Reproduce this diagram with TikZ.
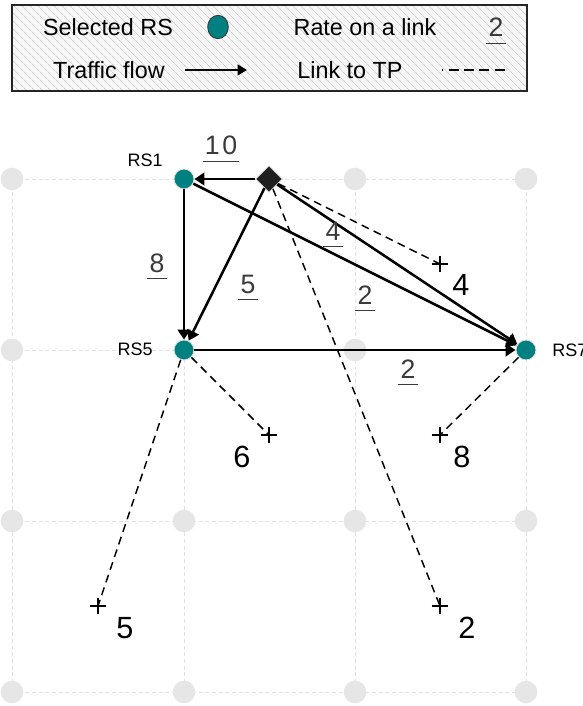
\documentclass[tikz,border=0pt]{standalone}
\usepackage{fontspec}
\setmainfont{Liberation Sans}
\usetikzlibrary{arrows.meta,shapes.geometric,patterns.meta}
\definecolor{tealrs}{HTML}{008080}
\definecolor{gridgray}{HTML}{E6E6E6}
\definecolor{gridline}{HTML}{E2E2E2}
\definecolor{ratecol}{HTML}{3A3A3A}
\begin{document}
\begin{tikzpicture}[x=0.75pt,y=-0.75pt,
  gpt/.style={circle,fill=gridgray,minimum size=17pt,inner sep=0pt},
  rs/.style={circle,fill=tealrs,draw=gray!25,line width=0.7pt,minimum size=15pt,inner sep=0pt},
  bs/.style={diamond,fill=black!88,draw=gray!40,line width=0.6pt,minimum size=20pt,inner sep=0pt},
  flow/.style={line width=1.9pt,-{Triangle[length=7.5pt,width=9.5pt]}},
  tplink/.style={line width=1.1pt,dash pattern=on 6pt off 4pt},
  gline/.style={draw=gridline,line width=0.6pt,dash pattern=on 3pt off 2pt},
  rate/.style={font=\fontsize{20}{20}\selectfont,text=ratecol,inner xsep=1.5pt,inner ysep=0pt,
    text depth=5pt,anchor=base,
    append after command={(\tikzlastnode.south west) edge[draw=ratecol,line width=0.8pt] (\tikzlastnode.south east)}},
  tpnum/.style={font=\fontsize{23}{23}\selectfont,anchor=base,inner sep=0pt},
  tpmark/.style={rectangle,minimum size=12pt,inner sep=0pt},
  plusline/.style={line width=2pt},
  rslabel/.style={font=\fontsize{13.5}{13.5}\selectfont,inner sep=0pt},
  legtext/.style={font=\fontsize{17.5}{17.5}\selectfont,inner sep=0pt}
]
\useasboundingbox (0,0) rectangle (582,706);
\clip (0,0) rectangle (582,706);

% legend
\draw[draw=black!85,line width=0.8pt,fill=gray!6] (12,5) rectangle (527,91);
\fill[pattern={Lines[angle=-45,distance=4pt,line width=0.5pt]},pattern color=gray!40] (12,5) rectangle (527,91);
\draw[draw=black!85,line width=0.8pt] (12,5) rectangle (527,91);
\node[legtext] (lsel) at (108,27) {Selected RS};
\node[ellipse,fill=tealrs,draw=black!80,line width=0.6pt,minimum width=15.5pt,minimum height=17.5pt,inner sep=0pt] (lrs) at (218,27) {};
\node[legtext] (lrate) at (365,27) {Rate on a link};
\node[rate] (lr2) at (496,37) {2};
\node[legtext] (lflow) at (109,70) {Traffic flow};
\coordinate (la1) at (185,70);
\coordinate (la2) at (247,70);
\draw[line width=1.7pt,-{Triangle[length=7pt,width=8pt]}] (la1) -- (la2);
\node[legtext] (ltp) at (350,70) {Link to TP};
\coordinate (ld1) at (442,70);
\coordinate (ld2) at (506,70);
\draw[line width=1pt,dash pattern=on 1pt off 4pt on 7.5pt off 4pt on 7.5pt off 4pt on 7.5pt off 4pt on 7.5pt] (ld1) -- (ld2);

% grid points
\foreach \i/\x in {0/12,1/184,2/355,3/526}{
  \foreach \j/\y in {0/179,1/350,2/521,3/692}{
    \coordinate (g\i\j) at (\x,\y);
  }
}
\foreach \j in {0,1,2,3}{\draw[gline] (g0\j) -- (g3\j);}
\foreach \i in {0,1,2,3}{\draw[gline] (g\i0) -- (g\i3);}
\foreach \i/\j in {0/0,2/0,3/0,0/1,2/1,0/2,1/2,2/2,3/2,0/3,1/3,2/3,3/3}{
  \node[gpt] (p\i\j) at (g\i\j) {};
}

% nodes
\node[rs] (rs1) at (g10) {};
\node[rs] (rs5) at (g11) {};
\node[rs] (rs7) at (g31) {};
\node[bs] (bs) at (269,179) {};
\node[rslabel,anchor=east] (l1) at (163,160) {RS1};
\node[rslabel,anchor=east] (l5) at (153,349) {RS5};
\node[rslabel,anchor=west] (l7) at (552,350) {RS7};

% test points
\node[tpmark] (tp4) at (440,264) {};
\node[tpmark] (tp6) at (269,435) {};
\node[tpmark] (tp8) at (440,435) {};
\node[tpmark] (tp5) at (98,606) {};
\node[tpmark] (tp2) at (440,606) {};
\node[tpnum] (n4) at (461,295) {4};
\node[tpnum] (n6) at (242,467) {6};
\node[tpnum] (n8) at (462,467) {8};
\node[tpnum] (n5) at (125,638) {5};
\node[tpnum] (n2) at (467,638) {2};

% links to TP
\draw[tplink] (bs) -- (tp4.center);
\draw[tplink] (bs) -- (tp2.center);
\draw[tplink] (rs5) -- (tp6.center);
\draw[tplink] (rs5) -- (tp5.center);
\draw[tplink] (rs7) -- (tp8.center);

\foreach \t in {tp4,tp6,tp8,tp5,tp2}{
  \draw[plusline] (\t.north) -- (\t.south) (\t.west) -- (\t.east);
}

% traffic flows
\draw[flow] (bs) -- (rs1);
\draw[flow] (rs1) -- (rs5);
\draw[flow] (bs) -- (rs5);
\draw[flow] (rs1) -- (rs7);
\draw[flow] (bs) -- (rs7);
\draw[flow] (rs5) -- (rs7);

% rates
\node[rate] (r10) at (221,155) {1\hspace{2pt}0};
\node[rate] (r8) at (157,272) {8};
\node[rate] (r5) at (248,293) {5};
\node[rate] (r4) at (333,240) {4};
\node[rate] (r2a) at (365,304) {2};
\node[rate] (r2b) at (408,378) {2};
\end{tikzpicture}
\end{document}
